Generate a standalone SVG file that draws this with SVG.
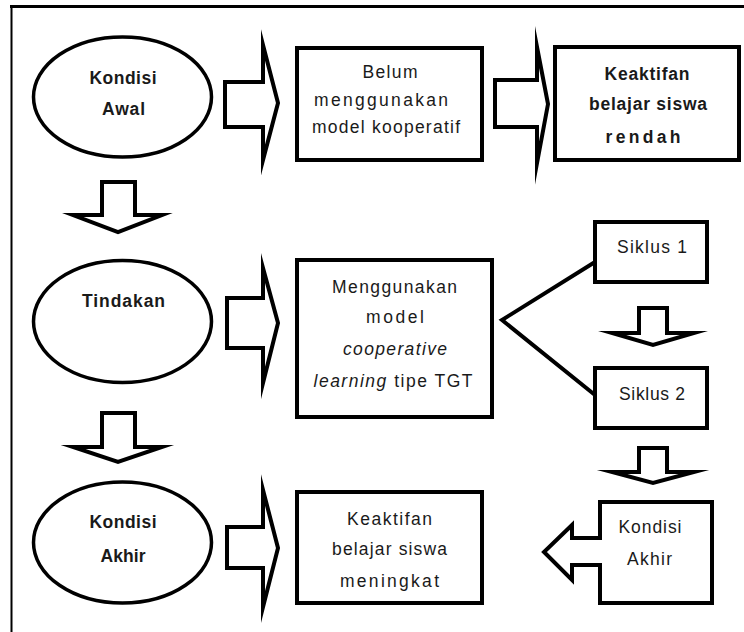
<svg xmlns="http://www.w3.org/2000/svg" width="744" height="632" viewBox="0 0 744 632">
<style>
.sh{fill:#fff;stroke:#000;stroke-width:4;stroke-linejoin:miter}
.el{fill:#fff;stroke:#000;stroke-width:3.5}
.ar{fill:#fff;stroke:#000;stroke-width:4;stroke-linejoin:miter;stroke-miterlimit:20}
.ln{fill:none;stroke:#000;stroke-width:4}
text{font-family:"Liberation Sans",Arial,sans-serif;font-size:17.5px;fill:#1a1a1a;text-anchor:middle}
.b{font-weight:bold}
.i{font-style:italic}
</style>
<rect width="744" height="632" fill="#fff"/>
<g id="frame">
<line x1="10" y1="6.5" x2="744" y2="6.5" stroke="#000" stroke-width="3"/>
<line x1="11.5" y1="5" x2="11.5" y2="632" stroke="#000" stroke-width="2"/>
</g>
<g id="connectors">
<polygon class="ar" points="225,82 263,82 263,45 278,103 263,160 263,127 225,127"/>
<polygon class="ar" points="495,80 537,80 537,47 548,104 537,163 537,127 495,127"/>
<polygon class="ar" points="227,298 263,298 263,268 278,323 263,383 263,348 227,348"/>
<polygon class="ar" points="227,527 263,527 263,490 278,548 263,607 263,568 227,568"/>
<polygon class="ar" points="102,182 135,182 135,215 162,215 118,232 73,215 102,215"/>
<polygon class="ar" points="102,413 135,413 135,447 162,447 118,462 73,447 102,447"/>
<polygon class="ar" points="639,308 667,308 667,333 694,333 653,345 612,333 639,333"/>
<polygon class="ar" points="639,448 667,448 667,472 694,472 653,483 612,472 639,472"/>
<polyline class="ln" points="595,262 502,320 595,395"/>
</g>
<g id="kondisi-awal">
<ellipse class="el" cx="122.5" cy="97" rx="89" ry="60"/>
<text class="b" x="123" y="84" textLength="67" lengthAdjust="spacing">Kondisi</text>
<text class="b" x="123.5" y="115" textLength="43" lengthAdjust="spacing">Awal</text>
</g>
<g id="belum">
<rect class="sh" x="297" y="48" width="185" height="112"/>
<text x="390" y="78" textLength="55" lengthAdjust="spacing">Belum</text>
<text x="381" y="106" textLength="134" lengthAdjust="spacing">menggunakan</text>
<text x="386" y="133" textLength="148" lengthAdjust="spacing">model kooperatif</text>
</g>
<g id="keaktifan-rendah">
<rect class="sh" x="555" y="47" width="184" height="113"/>
<text class="b" x="647" y="80" textLength="85" lengthAdjust="spacing">Keaktifan</text>
<text class="b" x="648" y="110" textLength="118" lengthAdjust="spacing">belajar siswa</text>
<text class="b" x="643" y="143" textLength="75" lengthAdjust="spacing">rendah</text>
</g>
<g id="tindakan">
<ellipse class="el" cx="122.5" cy="321.5" rx="89" ry="61"/>
<text class="b" x="123.5" y="307" textLength="83" lengthAdjust="spacing">Tindakan</text>
</g>
<g id="menggunakan">
<rect class="sh" x="297" y="260" width="195" height="157"/>
<text x="394.5" y="293" textLength="125" lengthAdjust="spacing">Menggunakan</text>
<text x="395" y="323" textLength="58" lengthAdjust="spacing">model</text>
<text class="i" x="395" y="355" textLength="104" lengthAdjust="spacing">cooperative</text>
<text x="393" y="387" textLength="159" lengthAdjust="spacing"><tspan class="i">learning</tspan> tipe  TGT</text>
</g>
<g id="siklus1">
<rect class="sh" x="595" y="222" width="112" height="60"/>
<text x="652" y="253" textLength="70" lengthAdjust="spacing">Siklus  1</text>
</g>
<g id="siklus2">
<rect class="sh" x="595" y="368" width="112" height="60"/>
<text x="652" y="400" textLength="66" lengthAdjust="spacing">Siklus 2</text>
</g>
<g id="kondisi-akhir">
<ellipse class="el" cx="122.5" cy="542.5" rx="89" ry="60.5"/>
<text class="b" x="123" y="528" textLength="67" lengthAdjust="spacing">Kondisi</text>
<text class="b" x="123" y="562" textLength="45" lengthAdjust="spacing">Akhir</text>
</g>
<g id="keaktifan-meningkat">
<rect class="sh" x="297" y="492" width="185" height="111"/>
<text x="389.5" y="525" textLength="85" lengthAdjust="spacing">Keaktifan</text>
<text x="389.5" y="555" textLength="115" lengthAdjust="spacing">belajar siswa</text>
<text x="389.5" y="587" textLength="99" lengthAdjust="spacing">meningkat</text>
</g>
<g id="kondisi-akhir-2">
<rect class="sh" x="600" y="502" width="112" height="101"/>
<path class="ar" d="M602,538 H572 V525 L544,552 L572,580 V565 H602"/>
<text x="650" y="533" textLength="63" lengthAdjust="spacing">Kondisi</text>
<text x="649.5" y="565" textLength="45" lengthAdjust="spacing">Akhir</text>
</g>
</svg>
